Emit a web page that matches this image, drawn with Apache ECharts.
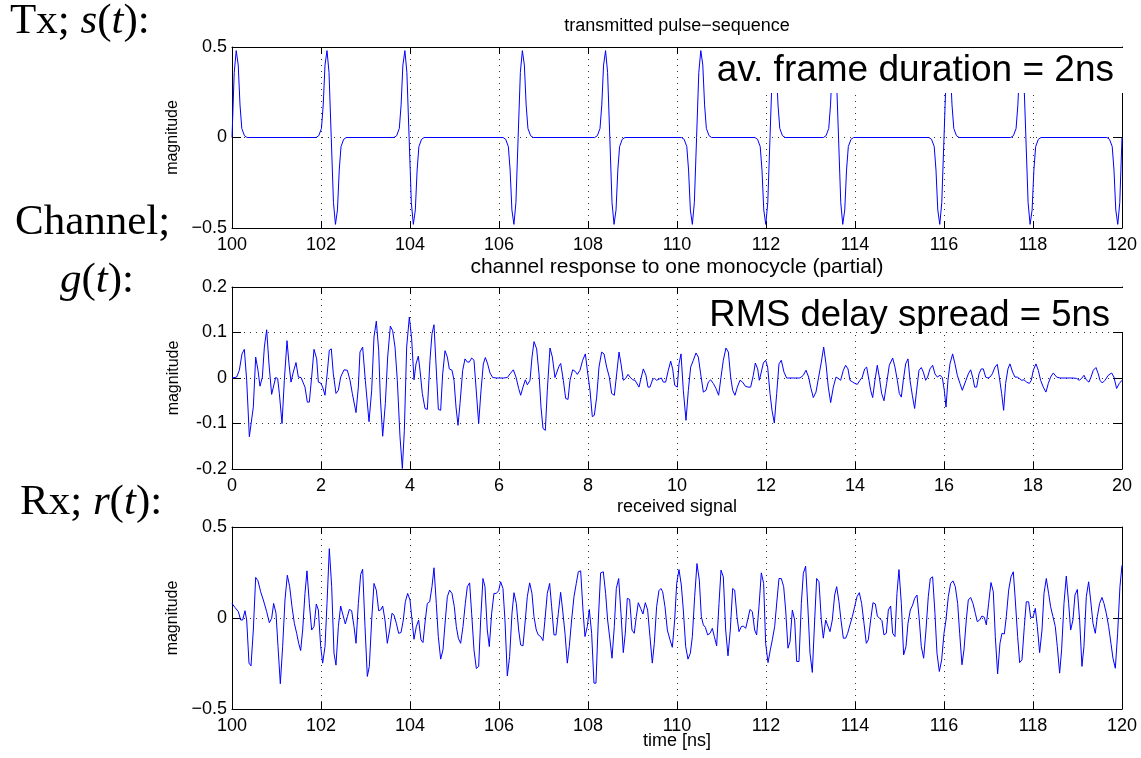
<!DOCTYPE html>
<html>
<head>
<meta charset="utf-8">
<script src="https://cdn.jsdelivr.net/npm/echarts@6/dist/echarts.min.js"></script>
<style>html,body{margin:0;padding:0;background:#fff}#c{width:1141px;height:758px}</style>
</head>
<body>
<div id="c"></div>
<script>
// ---------- DATA ----------
// transmitted pulse sequence: read monocycle shape (negative-lobe-first) and pulse positions/polarities
const pulseOffsets = [-0.34, -0.28, -0.22, -0.18, -0.14, -0.095, -0.05, 0, 0.05, 0.095, 0.14, 0.18, 0.22, 0.28, 0.34];
const pulseShape   = [0, -0.01, -0.05, -0.18, -0.40, -0.48, -0.36, 0, 0.36, 0.48, 0.40, 0.18, 0.05, 0.01, 0];
const pulseCenters = [100.00, 102.23, 103.98, 106.43, 108.49, 110.44, 112.09, 113.63, 116.00, 117.84, 120.00];
const pulseSigns   = [1, -1, -1, 1, -1, 1, 1, -1, 1, -1, 1];

// channel response to one monocycle (partial): [time ns, magnitude]
const channelPoints = [
[0.000,0],[0.105,0.002],[0.165,0.017],[0.225,0.053],[0.277,0.063],[0.330,-0.005],[0.390,-0.129],[0.434,-0.129],[0.479,-0.064],[0.532,0.046],
[0.584,0.017],[0.629,-0.018],[0.682,0.002],[0.727,0.068],[0.779,0.106],[0.831,0.031],[0.891,-0.036],[0.929,-0.034],[0.981,0.001],[1.026,-0.001],
[1.064,-0.034],[1.124,-0.100],[1.176,-0.005],[1.236,0.082],[1.281,0.031],[1.326,-0.009],[1.378,0.013],[1.438,0.034],[1.491,0.002],[1.551,0.001],
[1.588,0.002],[1.640,-0.020],[1.693,-0.053],[1.738,-0.053],[1.790,0.002],[1.843,0.063],[1.903,0.042],[1.940,-0.009],[1.993,-0.011],[2.037,-0.020],
[2.090,-0.038],[2.142,0.013],[2.187,0.061],[2.232,0.064],[2.277,0.009],[2.337,-0.034],[2.390,-0.027],[2.442,0.002],[2.517,0.018],[2.592,0.017],
[2.652,-0.005],[2.704,-0.034],[2.787,-0.076],[2.839,-0.020],[2.876,0.057],[2.936,0.068],[2.996,-0.005],[3.079,-0.096],[3.139,-0.027],[3.191,0.090],
[3.243,0.125],[3.296,0.061],[3.333,-0.042],[3.386,-0.128],[3.446,-0.056],[3.498,0.046],[3.558,0.114],[3.610,0.104],[3.663,0.068],[3.715,-0.005],
[3.775,-0.129],[3.828,-0.199],[3.873,-0.115],[3.925,0.068],[3.985,0.134],[4.037,0.086],[4.090,-0.004],[4.135,0.031],[4.187,0.048],[4.225,0.017],
[4.277,-0.034],[4.337,-0.067],[4.390,-0.069],[4.449,0.039],[4.494,0.097],[4.539,0.117],[4.584,0.031],[4.637,-0.069],[4.689,-0.071],[4.734,0.009],
[4.787,0.060],[4.839,0.046],[4.884,0.020],[4.944,0.017],[4.989,-0.005],[5.034,-0.064],[5.079,-0.104],[5.124,-0.056],[5.184,0.017],[5.236,0.042],
[5.288,0.035],[5.333,0.035],[5.386,0.044],[5.438,0.039],[5.483,-0.020],[5.543,-0.100],[5.596,-0.027],[5.648,0.031],[5.693,0.045],[5.745,0.031],
[5.798,0.011],[5.858,0.001],[5.948,0],[6.097,0],[6.187,0.001],[6.247,0.009],[6.322,0.018],[6.382,0.002],[6.442,-0.023],[6.487,-0.038],
[6.539,-0.020],[6.592,-0.004],[6.637,-0.015],[6.697,-0.005],[6.742,0.046],[6.787,0.080],[6.846,0.064],[6.899,0.009],[6.944,-0.064],[6.989,-0.111],
[7.041,-0.115],[7.086,-0.027],[7.146,0.066],[7.199,0.046],[7.258,0.001],[7.296,0.002],[7.348,0.026],[7.386,0.032],[7.446,-0.005],[7.498,-0.045],
[7.551,-0.047],[7.596,-0.005],[7.655,0.018],[7.708,0.015],[7.760,0.008],[7.820,0.017],[7.880,0.039],[7.940,0.053],[7.985,0.017],[8.045,-0.027],
[8.097,-0.085],[8.142,-0.082],[8.195,-0.042],[8.247,0.024],[8.307,0.057],[8.360,0.053],[8.419,0.024],[8.479,0.002],[8.532,-0.034],[8.592,-0.038],
[8.644,0.009],[8.697,0.057],[8.742,0.031],[8.794,-0.005],[8.846,-0.001],[8.899,0.008],[8.944,0.002],[9.004,-0.004],[9.056,-0.005],[9.094,-0.009],
[9.146,-0.020],[9.199,0.002],[9.243,0.020],[9.303,0.006],[9.348,-0.020],[9.393,-0.020],[9.453,-0.003],[9.498,-0.001],[9.543,-0.005],[9.603,-0.002],
[9.648,0],[9.693,-0.009],[9.745,-0.009],[9.805,0.017],[9.858,0.037],[9.903,0.020],[9.948,-0.016],[10.007,-0.020],[10.045,0.031],[10.090,0.053],
[10.142,-0.027],[10.202,-0.093],[10.255,-0.027],[10.307,0.024],[10.367,0.039],[10.427,0.055],[10.479,0.046],[10.532,0.009],[10.592,-0.031],[10.652,-0.027],
[10.704,-0.009],[10.756,-0.004],[10.816,-0.012],[10.876,-0.023],[10.936,-0.038],[10.989,0.002],[11.041,0.039],[11.101,0.066],[11.154,0.057],[11.206,0.002],
[11.251,-0.027],[11.303,-0.038],[11.356,-0.020],[11.416,-0.005],[11.475,-0.009],[11.535,-0.018],[11.595,-0.020],[11.655,-0.020],[11.715,0.006],[11.760,0.033],
[11.813,0.020],[11.850,-0.005],[11.895,0.013],[11.940,0.033],[11.992,0.039],[12.037,0.024],[12.090,-0.034],[12.135,-0.071],[12.187,-0.099],[12.240,-0.034],
[12.292,0.031],[12.344,0.039],[12.404,0.013],[12.464,0],[12.764,0],[12.839,0.006],[12.899,0.017],[12.958,0.002],[13.003,-0.020],[13.063,-0.043],
[13.123,-0.031],[13.183,0.002],[13.243,0.035],[13.296,0.068],[13.348,0.031],[13.400,-0.020],[13.453,-0.054],[13.513,-0.020],[13.573,0.002],[13.625,-0.001],
[13.678,-0.005],[13.738,0.017],[13.790,0.028],[13.842,0.020],[13.887,-0.005],[13.947,-0.009],[13.999,-0.012],[14.052,-0.014],[14.112,-0.005],[14.164,0.002],
[14.217,0.020],[14.262,0.024],[14.314,-0.005],[14.352,-0.027],[14.397,-0.043],[14.449,-0.005],[14.501,0.028],[14.546,0.002],[14.599,-0.034],[14.651,-0.050],
[14.711,-0.012],[14.771,0.028],[14.846,0.044],[14.898,0.024],[14.951,-0.005],[14.996,-0.034],[15.041,-0.042],[15.086,-0.005],[15.138,0.031],[15.191,0.042],
[15.236,-0.005],[15.288,-0.038],[15.340,-0.067],[15.385,-0.027],[15.438,0.017],[15.490,0.023],[15.535,0.013],[15.588,-0.005],[15.632,0.002],[15.685,0.020],
[15.745,0.028],[15.797,0.009],[15.850,0.002],[15.910,0.006],[15.962,0.001],[16.007,-0.027],[16.045,-0.064],[16.089,-0.005],[16.134,0.031],[16.194,0.053],
[16.247,0.031],[16.299,0.006],[16.359,-0.012],[16.411,-0.027],[16.449,-0.031],[16.494,-0.005],[16.546,0.009],[16.599,0.018],[16.644,0.002],[16.689,-0.020],
[16.734,-0.020],[16.786,0.009],[16.838,0.020],[16.883,0.020],[16.936,0.002],[16.988,0],[17.033,0.002],[17.085,0.009],[17.145,0.024],[17.198,0.030],
[17.243,0.002],[17.295,-0.034],[17.340,-0.071],[17.385,-0.012],[17.437,0.020],[17.482,0.031],[17.542,0.013],[17.595,0.002],[17.647,0.002],[17.692,-0.001],
[17.745,-0.005],[17.797,-0.004],[17.857,-0.009],[17.917,-0.012],[17.962,-0.005],[18.007,0.017],[18.067,0.031],[18.119,0.017],[18.171,-0.005],[18.231,-0.020],
[18.291,-0.031],[18.344,-0.012],[18.396,0.002],[18.456,0.011],[18.531,0.002],[18.606,0],[18.905,0],[18.980,-0.001],[19.040,-0.005],[19.093,-0.001],
[19.145,0.006],[19.205,-0.005],[19.258,-0.009],[19.303,0.002],[19.355,0.017],[19.415,0.023],[19.467,0.009],[19.505,-0.005],[19.557,-0.011],[19.617,-0.005],
[19.692,0.006],[19.767,0.011],[19.819,0.002],[19.879,-0.023],[19.939,-0.012],[20.000,-0.005]
];

// received signal: [time ns, magnitude]
const receivedPoints = [
[100.000,0.080],[100.067,0.058],[100.142,0.035],[100.195,-0.011],[100.240,-0.011],[100.292,0.040],[100.330,-0.011],[100.382,-0.248],[100.427,-0.263],[100.479,-0.066],
[100.532,0.223],[100.584,0.204],[100.644,0.144],[100.704,0.099],[100.779,0.035],[100.839,-0.026],[100.891,-0.002],[100.936,0.080],[100.989,0.026],[101.034,-0.157],
[101.086,-0.361],[101.138,-0.157],[101.191,0.099],[101.243,0.235],[101.296,0.172],[101.348,0.062],[101.401,-0.029],[101.453,-0.084],[101.498,-0.139],[101.543,-0.179],
[101.588,-0.066],[101.640,0.135],[101.685,0.259],[101.738,0.080],[101.790,-0.066],[101.843,-0.047],[101.895,0.077],[101.940,0.044],[101.993,-0.157],[102.037,-0.248],
[102.090,-0.157],[102.135,0.080],[102.187,0.381],[102.240,0.172],[102.292,-0.193],[102.337,-0.259],[102.390,-0.047],[102.442,0.066],[102.494,0.016],[102.547,-0.033],
[102.592,0.007],[102.637,0.047],[102.689,0.040],[102.742,-0.047],[102.787,-0.139],[102.839,0.080],[102.891,0.239],[102.936,0.268],[102.989,-0.047],[103.041,-0.321],
[103.086,-0.266],[103.139,-0.011],[103.191,0.190],[103.243,0.153],[103.296,0.040],[103.341,0.044],[103.386,0.066],[103.438,-0.011],[103.490,-0.139],[103.543,-0.066],
[103.595,0.026],[103.640,0.016],[103.693,-0.029],[103.745,-0.084],[103.798,-0.080],[103.850,-0.011],[103.895,0.089],[103.947,0.135],[104.000,0.099],[104.045,-0.011],
[104.090,-0.117],[104.142,-0.047],[104.194,-0.011],[104.247,-0.120],[104.292,-0.135],[104.344,-0.011],[104.389,0.080],[104.442,0.089],[104.494,0.172],[104.539,0.276],
[104.591,0.080],[104.636,-0.102],[104.689,-0.226],[104.741,-0.175],[104.794,-0.011],[104.839,0.117],[104.891,0.153],[104.943,0.135],[104.996,0.062],[105.041,-0.047],
[105.086,-0.111],[105.138,-0.139],[105.191,-0.047],[105.243,0.080],[105.288,0.172],[105.340,0.193],[105.385,0.026],[105.438,-0.175],[105.490,-0.277],[105.543,-0.266],
[105.588,-0.011],[105.640,0.217],[105.685,0.172],[105.737,-0.066],[105.782,-0.157],[105.835,0.026],[105.887,0.135],[105.940,0.135],[105.992,0.150],[106.037,0.199],
[106.089,0.162],[106.134,-0.011],[106.187,-0.318],[106.239,-0.212],[106.292,0.026],[106.337,0.139],[106.389,0.080],[106.442,-0.066],[106.487,-0.148],[106.539,-0.153],
[106.591,-0.011],[106.636,0.117],[106.689,0.193],[106.741,0.135],[106.786,0.007],[106.838,-0.066],[106.883,-0.093],[106.936,-0.102],[106.988,-0.124],[107.033,-0.011],
[107.085,0.135],[107.138,0.190],[107.183,0.062],[107.235,-0.093],[107.280,-0.093],[107.333,0.026],[107.385,0.141],[107.430,0.044],[107.483,-0.084],[107.535,-0.248],
[107.580,-0.157],[107.632,-0.011],[107.685,0.117],[107.737,0.190],[107.782,0.254],[107.835,0.259],[107.887,0.044],[107.932,-0.102],[107.984,-0.047],[108.029,0.047],
[108.082,-0.084],[108.134,-0.358],[108.179,-0.358],[108.232,-0.011],[108.284,0.248],[108.344,0.254],[108.396,0.135],[108.441,-0.011],[108.494,-0.120],[108.539,-0.221],
[108.591,-0.047],[108.636,0.162],[108.689,0.217],[108.741,0.026],[108.793,-0.190],[108.838,-0.084],[108.883,0.108],[108.936,0.102],[108.988,-0.066],[109.040,-0.084],
[109.085,0.007],[109.130,0.084],[109.183,0.053],[109.235,0.022],[109.288,0.084],[109.340,0.044],[109.392,-0.102],[109.445,-0.248],[109.490,-0.139],[109.542,0.062],
[109.594,0.150],[109.639,0.162],[109.678,0.144],[109.730,0.062],[109.783,-0.066],[109.843,-0.120],[109.895,-0.161],[109.948,-0.011],[109.993,0.190],[110.045,0.266],
[110.097,0.181],[110.142,0.044],[110.195,-0.157],[110.247,-0.226],[110.300,-0.193],[110.345,-0.102],[110.397,0.117],[110.449,0.299],[110.502,0.208],[110.547,0.007],
[110.592,-0.038],[110.637,-0.051],[110.689,-0.093],[110.742,-0.084],[110.794,-0.057],[110.839,-0.102],[110.891,-0.153],[110.944,0.080],[110.989,0.263],[111.041,0.226],
[111.094,-0.066],[111.146,-0.208],[111.198,-0.066],[111.251,0.162],[111.296,0.153],[111.348,0.007],[111.393,-0.075],[111.446,-0.047],[111.491,-0.044],[111.543,-0.057],
[111.588,-0.011],[111.640,0.047],[111.693,0.035],[111.745,-0.066],[111.790,-0.093],[111.842,0.062],[111.895,0.248],[111.947,0.190],[111.992,-0.139],[112.045,-0.245],
[112.097,-0.175],[112.142,-0.120],[112.195,-0.047],[112.247,0.099],[112.292,0.217],[112.344,0.217],[112.397,0.172],[112.442,0.044],[112.494,-0.166],[112.539,-0.130],
[112.592,0.044],[112.644,-0.011],[112.689,-0.239],[112.741,-0.239],[112.794,0.080],[112.839,0.245],[112.891,0.285],[112.944,0.044],[112.989,-0.193],[113.041,-0.299],
[113.094,-0.011],[113.138,0.217],[113.191,0.199],[113.243,-0.011],[113.288,-0.111],[113.341,-0.011],[113.385,-0.002],[113.438,-0.075],[113.490,-0.011],[113.543,0.126],
[113.588,0.172],[113.640,0.089],[113.685,-0.011],[113.738,-0.111],[113.790,-0.111],[113.835,-0.084],[113.887,-0.038],[113.940,0.007],[113.992,0.062],[114.045,0.117],
[114.097,0.139],[114.149,0.080],[114.202,-0.029],[114.254,-0.139],[114.299,-0.120],[114.352,-0.011],[114.404,0.084],[114.457,0.077],[114.502,0.011],[114.554,-0.002],
[114.606,-0.015],[114.651,-0.093],[114.704,-0.084],[114.749,0.044],[114.801,0.066],[114.846,-0.084],[114.898,-0.102],[114.943,0.135],[114.988,0.266],[115.041,0.080],
[115.093,-0.203],[115.146,-0.157],[115.191,-0.029],[115.243,0.044],[115.295,0.071],[115.340,0.108],[115.393,0.126],[115.445,-0.011],[115.490,-0.157],[115.543,-0.221],
[115.595,-0.066],[115.647,0.117],[115.692,0.217],[115.745,0.226],[115.797,0.026],[115.842,-0.193],[115.895,-0.294],[115.947,-0.230],[116.000,-0.084],[116.044,-0.011],
[116.097,0.117],[116.149,0.190],[116.202,0.204],[116.254,0.172],[116.307,0.080],[116.352,-0.084],[116.404,-0.257],[116.449,-0.175],[116.501,-0.011],[116.546,0.099],
[116.599,0.113],[116.651,0.080],[116.704,0.026],[116.748,-0.020],[116.801,-0.011],[116.853,0.011],[116.906,0.004],[116.951,-0.038],[117.003,0.080],[117.056,0.195],
[117.108,0.144],[117.153,-0.102],[117.205,-0.307],[117.258,-0.139],[117.303,-0.084],[117.355,-0.088],[117.400,0.007],[117.453,0.153],[117.505,0.226],[117.557,0.254],
[117.602,0.099],[117.655,-0.102],[117.700,-0.245],[117.752,-0.230],[117.805,-0.047],[117.850,0.089],[117.902,0.089],[117.947,0.004],[118.000,0.004],[118.052,0.053],
[118.097,-0.047],[118.149,-0.190],[118.202,-0.066],[118.247,0.135],[118.299,0.217],[118.351,0.135],[118.396,0.062],[118.449,0.007],[118.501,-0.047],[118.546,-0.157],
[118.599,-0.303],[118.643,-0.175],[118.696,0.080],[118.748,0.230],[118.801,0.080],[118.846,-0.066],[118.898,-0.011],[118.943,0.126],[118.996,0.157],[119.048,-0.011],
[119.100,-0.266],[119.145,-0.157],[119.198,0.117],[119.250,0.199],[119.295,0.099],[119.348,-0.029],[119.400,-0.084],[119.445,0.007],[119.497,0.080],[119.550,0.113],
[119.595,0.080],[119.647,0.026],[119.700,-0.047],[119.752,-0.139],[119.797,-0.221],[119.850,-0.276],[119.902,-0.084],[119.954,0.172],[120.000,0.290]
];

const panelTitles = ['transmitted pulse\u2212sequence', 'channel response to one monocycle (partial)', 'received signal'];
const xTitle = 'time [ns]';
const yTitle = 'magnitude';
const annotations = ['av. frame duration = 2ns', 'RMS delay spread = 5ns'];

// ---------- BUILD ----------
const xRanges = [[100, 120], [0, 20], [100, 120]];
const pulseSeries = [];
pulseCenters.forEach((c, k) => {
  pulseOffsets.forEach((o, j) => {
    const t = +(c + o).toFixed(3);
    if (t >= xRanges[0][0] && t <= xRanges[0][1]) pulseSeries.push([t, pulseSigns[k] * pulseShape[j]]);
  });
});

const SANS = '"Liberation Sans", Arial, Helvetica, sans-serif';
const SERIF = '"Liberation Serif", "Times New Roman", serif';

const grids = [
  {left: 232, width: 890, top: 47, height: 181},
  {left: 232, width: 890, top: 287, height: 182},
  {left: 232, width: 890, top: 527, height: 182}
];
const yRanges = [[-0.5, 0.5, 0.5, '\u2212'], [-0.2, 0.2, 0.1, '-'], [-0.5, 0.5, 0.5, '\u2212']];

const black = '#000';
const xAxes = [], yAxes = [];
grids.forEach((g, i) => {
  const [xmin, xmax] = xRanges[i];
  const base = {gridIndex: i, type: 'value', min: xmin, max: xmax, interval: 2};
  xAxes.push(Object.assign({}, base, {
    position: 'bottom',
    axisLine: {show: true, onZero: false, lineStyle: {color: black, width: 1}},
    axisTick: {show: true, inside: true, length: 7, lineStyle: {color: black, width: 1}},
    axisLabel: {show: true, color: black, fontSize: 18, fontFamily: SANS, margin: 8, showMinLabel: true, showMaxLabel: true},
    splitLine: {show: true, lineStyle: {color: '#333', width: 1, type: [1, 5]}}
  }));
  xAxes.push(Object.assign({}, base, {
    position: 'top',
    axisLine: {show: true, onZero: false, lineStyle: {color: black, width: 1}},
    axisTick: {show: true, inside: true, length: 7, lineStyle: {color: black, width: 1}},
    axisLabel: {show: false},
    splitLine: {show: false}
  }));
  const [ymin, ymax, yint, minus] = yRanges[i];
  const fmt = v => (Math.abs(v) < 1e-9 ? '0' : (v < 0 ? minus : '') + Math.abs(v).toFixed(1));
  const ybase = {gridIndex: i, type: 'value', min: ymin, max: ymax, interval: yint};
  yAxes.push(Object.assign({}, ybase, {
    position: 'left',
    name: yTitle, nameLocation: 'middle', nameRotate: 90, nameGap: 50,
    nameTextStyle: {color: black, fontSize: 16, fontFamily: SANS},
    axisLine: {show: true, onZero: false, lineStyle: {color: black, width: 1}},
    axisTick: {show: true, inside: true, length: 9, lineStyle: {color: black, width: 1}},
    axisLabel: {show: true, color: black, fontSize: 18, fontFamily: SANS, margin: 5, formatter: fmt, showMinLabel: true, showMaxLabel: true},
    splitLine: {show: true, lineStyle: {color: '#333', width: 1, type: [1, 5]}}
  }));
  yAxes.push(Object.assign({}, ybase, {
    position: 'right',
    axisLine: {show: true, onZero: false, lineStyle: {color: black, width: 1}},
    axisTick: {show: true, inside: true, length: 9, lineStyle: {color: black, width: 1}},
    axisLabel: {show: false},
    splitLine: {show: false}
  }));
});

const seriesData = [pulseSeries, channelPoints, receivedPoints];
const series = seriesData.map((d, i) => ({
  type: 'line', xAxisIndex: 2 * i, yAxisIndex: 2 * i, data: d,
  showSymbol: false, symbol: 'none', clip: true,
  lineStyle: {color: '#0000ff', width: 1}, itemStyle: {color: '#0000ff'},
  emphasis: {disabled: true}, silent: true, animation: false
}));

function txt(x, y, text, size, align, family) {
  return {type: 'text', x: x, y: y, z: 100,
    style: {text: text, fill: black, font: size + 'px ' + family, align: align, verticalAlign: 'middle'}};
}
function richLabel(x, y, text) {
  return {type: 'text', x: x, y: y, z: 100,
    style: {text: text, fill: black, align: 'left', verticalAlign: 'middle',
      rich: {r: {fontFamily: SERIF, fontSize: 43, fill: black}, i: {fontFamily: SERIF, fontSize: 43, fontStyle: 'italic', fill: black}}}};
}

const graphics = [
  txt(677, 26, panelTitles[0], 18, 'center', SANS),
  txt(677, 267, panelTitles[1], 21, 'center', SANS),
  txt(677, 507, panelTitles[2], 18, 'center', SANS),
  txt(677, 741, xTitle, 18, 'center', SANS),
  {type: 'rect', z: 90, shape: {x: 713, y: 48, width: 414, height: 45}, style: {fill: '#fff'}},
  txt(1114, 71, annotations[0], 37, 'right', SANS),
  {type: 'rect', z: 90, shape: {x: 705, y: 288, width: 422, height: 44}, style: {fill: '#fff'}},
  txt(1110, 316, annotations[1], 36.5, 'right', SANS),
  richLabel(10, 22, '{r|Tx; }{i|s}{r|(}{i|t}{r|):}'),
  richLabel(15, 223, '{r|Channel;}'),
  richLabel(60, 281, '{i|g}{r|(}{i|t}{r|):}'),
  richLabel(20, 503, '{r|Rx; }{i|r}{r|(}{i|t}{r|):}')
];

const chart = echarts.init(document.getElementById('c'), null, {renderer: 'canvas'});
chart.setOption({
  animation: false,
  backgroundColor: '#fff',
  grid: grids,
  xAxis: xAxes,
  yAxis: yAxes,
  series: series,
  graphic: graphics
});
</script>
</body>
</html>
